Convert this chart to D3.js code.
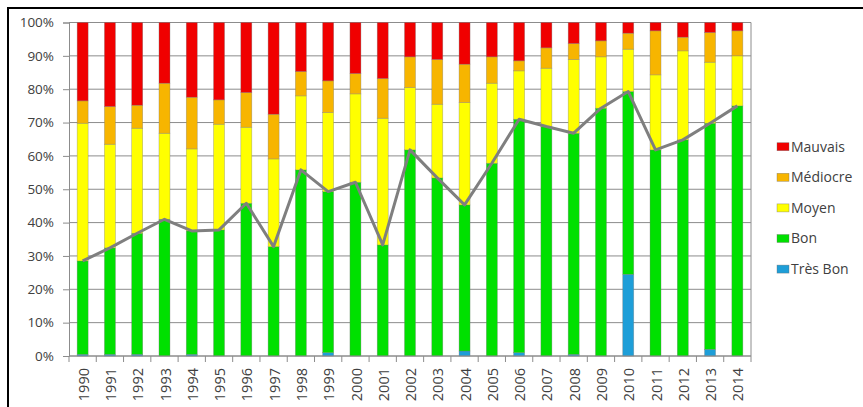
<!DOCTYPE html>
<html>
<head>
<meta charset="utf-8">
<script src="https://cdn.jsdelivr.net/npm/d3@7"></script>
<style>
  html, body { margin: 0; padding: 0; background: #ffffff; }
  svg { display: block; }
  text { font-family: "Open Sans", "Noto Sans", sans-serif; fill: #404040; }
</style>
</head>
<body>
<svg id="chart" width="863" height="407"></svg>
<script>
// Yearly shares (%) of each quality class
const years = ["1990","1991","1992","1993","1994","1995","1996","1997","1998","1999",
               "2000","2001","2002","2003","2004","2005","2006","2007","2008","2009",
               "2010","2011","2012","2013","2014"];
const tresBon  = [0.5, 0.5, 0.5, 0, 0.5, 0, 0, 0, 0, 1.0, 0, 0, 0, 0, 1.5, 0, 1.0, 0, 0.5, 0, 24.5, 0, 0, 2.0, 0];
const bon      = [28.0, 31.9, 36.3, 41.0, 37.0, 37.8, 45.8, 32.8, 55.8, 48.3, 52.1, 33.3, 61.8, 53.4, 43.8, 57.8, 70.0, 68.8, 66.3, 74.3, 54.8, 61.8, 64.8, 67.8, 75.0];
const moyen    = [41.3, 31.1, 31.5, 25.8, 24.6, 31.7, 22.8, 26.3, 22.2, 23.7, 26.5, 38.0, 18.7, 22.1, 30.7, 24.0, 14.5, 17.5, 22.1, 15.4, 12.7, 22.5, 26.7, 18.3, 15.0];
const mediocre = [6.7, 11.3, 6.9, 15.0, 15.5, 7.3, 10.4, 13.4, 7.3, 9.5, 6.1, 11.9, 9.2, 13.4, 11.5, 7.9, 3.0, 6.1, 4.8, 4.8, 4.8, 13.2, 4.1, 8.9, 7.5];
const mauvais  = [23.5, 25.2, 24.8, 18.2, 22.4, 23.2, 21.0, 27.5, 14.7, 17.5, 15.3, 16.8, 10.3, 11.1, 12.5, 10.3, 11.5, 7.6, 6.3, 5.5, 3.2, 2.5, 4.4, 3.0, 2.5];
const yTicks   = [0, 10, 20, 30, 40, 50, 60, 70, 80, 90, 100];

// Stack order, bottom to top
const keys   = ["Très Bon", "Bon", "Moyen", "Médiocre", "Mauvais"];
const colors = {"Très Bon": "#1e9ed8", "Bon": "#00e000", "Moyen": "#ffff00", "Médiocre": "#f7b500", "Mauvais": "#f00000"};
const series = {"Très Bon": tresBon, "Bon": bon, "Moyen": moyen, "Médiocre": mediocre, "Mauvais": mauvais};

const rows = years.map((y, i) => {
  const r = {year: y};
  keys.forEach(k => r[k] = series[k][i]);
  return r;
});

const svg = d3.select("#chart");

// Outer frame
svg.append("rect")
  .attr("x", 8).attr("y", 8).attr("width", 900).attr("height", 450)
  .attr("fill", "none").attr("stroke", "#000").attr("stroke-width", 2);

const plot = {left: 69, right: 751, top: 22.5, bottom: 356};

const x = d3.scaleBand().domain(years).range([plot.left, plot.right]).paddingInner(0.6).paddingOuter(0.3);
const xBand = d3.scaleBand().domain(years).range([plot.left, plot.right]);
const y = d3.scaleLinear().domain([0, 100]).range([plot.bottom, plot.top]);

// Horizontal gridlines
svg.append("g")
  .selectAll("line")
  .data(yTicks)
  .join("line")
  .attr("x1", plot.left).attr("x2", plot.right)
  .attr("y1", d => y(d)).attr("y2", d => y(d))
  .attr("stroke", "#8c8c8c").attr("stroke-width", 1);

// Right edge of plot area
svg.append("line")
  .attr("x1", plot.right).attr("x2", plot.right)
  .attr("y1", y(100)).attr("y2", y(0))
  .attr("stroke", "#8c8c8c").attr("stroke-width", 1);

// Y axis
const yAxis = svg.append("g")
  .attr("transform", `translate(${plot.left},0)`)
  .call(d3.axisLeft(y).tickValues(yTicks).tickFormat(d => d + "%").tickSize(6).tickPadding(9));
yAxis.select(".domain").attr("stroke", "#8c8c8c");
yAxis.selectAll(".tick line").attr("stroke", "#8c8c8c");
yAxis.selectAll("text").style("font-size", "13.5px").attr("fill", "#404040");

// Stacked bars
const stacked = d3.stack().keys(keys)(rows);
svg.append("g")
  .selectAll("g")
  .data(stacked)
  .join("g")
  .attr("fill", d => colors[d.key])
  .selectAll("rect")
  .data(d => d)
  .join("rect")
  .attr("x", d => xBand(d.data.year) + xBand.bandwidth() / 2 - 5.5)
  .attr("width", 11)
  .attr("y", d => y(d[1]))
  .attr("height", d => Math.max(0, y(d[0]) - y(d[1])))
  .attr("stroke", "rgba(120,120,120,0.55)")
  .attr("stroke-width", 0.6);

// X axis with ticks between categories
svg.append("line")
  .attr("x1", plot.left).attr("x2", plot.right)
  .attr("y1", plot.bottom).attr("y2", plot.bottom)
  .attr("stroke", "#8c8c8c");
const tickPos = d3.range(years.length + 1).map(i => plot.left + i * xBand.step());
svg.append("g")
  .selectAll("line")
  .data(tickPos)
  .join("line")
  .attr("x1", d => d).attr("x2", d => d)
  .attr("y1", plot.bottom).attr("y2", plot.bottom + 6)
  .attr("stroke", "#8c8c8c");

// Rotated year labels
svg.append("g")
  .selectAll("text")
  .data(years)
  .join("text")
  .attr("transform", d => `translate(${xBand(d) + xBand.bandwidth() / 2 + 1},368) rotate(-90)`)
  .attr("text-anchor", "end")
  .attr("dy", "0.35em")
  .style("font-size", "14.5px")
  .text(d => d);

// Line through the Bon + Très Bon totals
const totals = years.map((yr, i) => ({year: yr, v: bon[i] + tresBon[i]}));
svg.append("path")
  .datum(totals)
  .attr("fill", "none")
  .attr("stroke", "#7f7f7f")
  .attr("stroke-width", 3)
  .attr("stroke-linejoin", "round")
  .attr("d", d3.line().x(d => xBand(d.year) + xBand.bandwidth() / 2).y(d => y(d.v)));

// Legend, top entry first
const legendKeys = keys.slice().reverse();
const legend = svg.append("g")
  .selectAll("g")
  .data(legendKeys)
  .join("g")
  .attr("transform", (d, i) => `translate(777,${146.7 + i * 30.6})`);
legend.append("rect")
  .attr("x", 0).attr("y", -4).attr("width", 12).attr("height", 8)
  .attr("fill", d => colors[d])
  .attr("stroke", "rgba(110,110,110,0.6)").attr("stroke-width", 0.6);
legend.append("text")
  .attr("x", 14).attr("dy", "0.35em")
  .style("font-size", "14px")
  .text(d => d);
</script>
</body>
</html>
